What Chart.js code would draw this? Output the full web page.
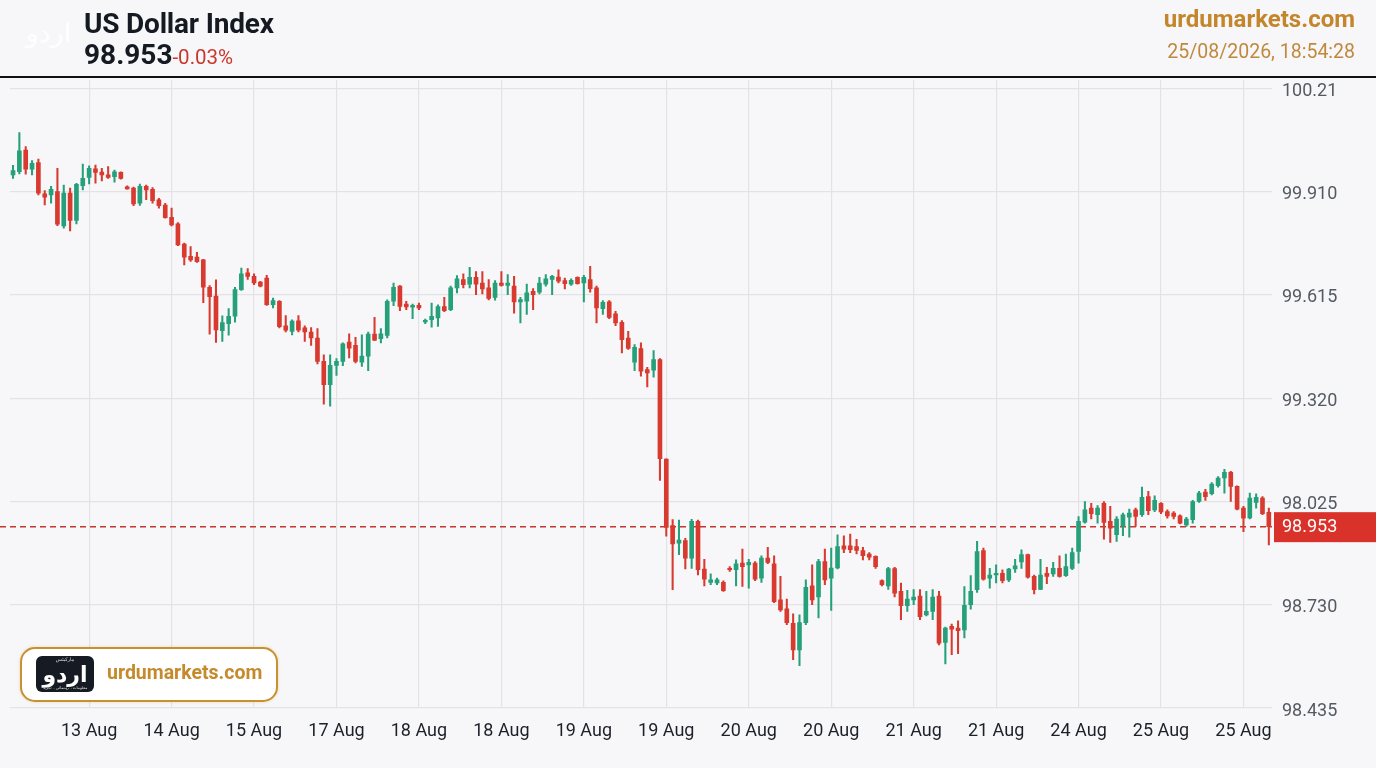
<!DOCTYPE html>
<html>
<head>
<meta charset="utf-8">
<script src="https://cdn.jsdelivr.net/npm/chart.js@4.4.1/dist/chart.umd.min.js"></script>
<style>
  html, body { margin: 0; padding: 0; background: #f7f7f9; }
  body { width: 1376px; height: 768px; position: relative; overflow: hidden; font-family: Roboto, "Noto Sans", Arial, sans-serif; }
  #wrap { position: absolute; left: 0; top: 0; width: 1376px; height: 768px; }
  .abs { position: absolute; white-space: nowrap; }
  #title { left: 84px; top: 7px; font-size: 28px; font-weight: 700; color: #151a22; letter-spacing: -0.2px; }
  #price { left: 84px; top: 38px; font-size: 28px; font-weight: 700; color: #151a22; }
  #chg { font-size: 20.5px; font-weight: 400; color: #c9382d; }
  #site { right: 21px; top: 5px; font-size: 24px; font-weight: 700; color: #c4862c; }
  #stamp { right: 21px; top: 40px; font-size: 19.5px; color: #bf8a3e; }
  #rule { left: 0; top: 76px; width: 1376px; height: 2px; background: #111; }
  #wm { left: 26px; top: 18px; font-size: 26px; font-weight: 700; color: #fdfdfe; text-shadow: 0 0 1px rgba(0,0,0,0.05); }
  #logo { left: 20px; top: 647px; width: 254px; height: 51px; border: 2.5px solid #c8912f; border-radius: 15px; background: #ffffff; box-shadow: 0 0 3px rgba(200,145,47,0.35); }
  #badge { position: absolute; left: 14px; top: 7px; width: 58px; height: 36px; border-radius: 6px; background: #161a22; color: #fff; overflow: hidden; font-family: "Noto Sans", "DejaVu Sans", sans-serif; }
  #badge .big { position: absolute; left: 0; width: 58px; top: 3px; text-align: center; font-size: 22px; font-weight: 700; line-height: 28px; }
  #badge .tiny1 { position: absolute; left: 0; width: 58px; text-align: center; top: 0px; font-size: 5px; line-height: 6px; color: #ddd; }
  #badge .tiny2 { position: absolute; left: 0; width: 58px; text-align: center; top: 29px; font-size: 4px; line-height: 5px; color: #ddd; }
  #logotext { position: absolute; left: 85px; top: 12px; font-size: 19.5px; font-weight: 700; color: #c48a2c; }
</style>
</head>
<body>
<div id="wrap"><canvas id="c"></canvas></div>
<div class="abs" id="wm">اردو</div>
<div class="abs" id="title">US Dollar Index</div>
<div class="abs" id="price">98.953<span id="chg">-0.03%</span></div>
<div class="abs" id="site">urdumarkets.com</div>
<div class="abs" id="stamp">25/08/2026, 18:54:28</div>
<div class="abs" id="rule"></div>
<div class="abs" id="logo"><div id="badge"><span class="tiny1">مارکیٹس</span><span class="big">اردو</span><span class="tiny2">معلومات ۔ رہنمائی ۔ تجزیہ</span></div><div id="logotext">urdumarkets.com</div></div>
<script>
// ---- data ----
const opens = [
99.958,99.967,100.029,99.974,99.993,99.904,99.901,99.910,99.812,99.906,
99.828,99.927,99.951,99.975,99.966,99.958,99.953,99.965,99.924,99.920,
99.877,99.925,99.917,99.887,99.872,99.837,99.818,99.760,99.725,99.723,
99.715,99.637,99.612,99.513,99.533,99.554,99.630,99.678,99.668,99.652,
99.663,99.587,99.597,99.527,99.511,99.541,99.521,99.509,99.492,99.425,
99.359,99.414,99.425,99.480,99.471,99.423,99.440,99.503,99.490,99.499,
99.597,99.640,99.589,99.580,99.585,99.538,99.544,99.549,99.582,99.573,
99.635,99.659,99.646,99.665,99.649,99.635,99.608,99.649,99.642,99.640,
99.595,99.597,99.625,99.623,99.646,99.659,99.666,99.656,99.646,99.665,
99.649,99.659,99.635,99.576,99.595,99.561,99.537,99.492,99.423,99.462,
99.402,99.400,99.430,99.146,98.956,98.906,98.913,98.863,98.968,98.832,
98.794,98.792,98.794,98.833,98.830,98.849,98.844,98.849,98.806,98.863,
98.847,98.744,98.718,98.677,98.601,98.679,98.784,98.752,98.853,98.806,
98.835,98.898,98.898,98.896,98.885,98.875,98.868,98.799,98.784,98.833,
98.768,98.727,98.744,98.755,98.701,98.711,98.755,98.622,98.668,98.663,
98.658,98.730,98.773,98.885,98.806,98.815,98.820,98.801,98.832,98.852,
98.873,98.811,98.774,98.820,98.818,98.834,98.813,98.834,98.882,98.966,
99.006,98.987,99.020,98.968,98.930,98.954,98.980,99.001,98.987,99.039,
99.001,99.020,98.996,98.992,98.984,98.958,98.973,99.025,99.052,99.047,
99.070,99.092,99.108,99.068,99.006,98.978,99.022,99.035,98.994];
const highs = [
99.985,100.079,100.039,99.999,100.003,99.913,99.925,99.977,99.929,99.920,
99.934,99.989,99.984,99.986,99.977,99.982,99.972,99.967,99.927,99.923,
99.932,99.929,99.922,99.891,99.877,99.863,99.822,99.763,99.753,99.737,
99.717,99.642,99.658,99.555,99.576,99.637,99.692,99.690,99.675,99.654,
99.671,99.606,99.599,99.556,99.544,99.556,99.527,99.522,99.519,99.444,
99.444,99.433,99.478,99.504,99.494,99.501,99.509,99.551,99.519,99.601,
99.649,99.642,99.597,99.589,99.592,99.546,99.592,99.587,99.608,99.640,
99.670,99.675,99.694,99.682,99.682,99.659,99.656,99.682,99.673,99.668,
99.608,99.646,99.633,99.665,99.673,99.671,99.687,99.663,99.661,99.667,
99.671,99.697,99.640,99.599,99.599,99.568,99.542,99.511,99.473,99.478,
99.408,99.456,99.433,99.147,98.973,98.972,98.920,98.974,98.972,98.860,
98.818,98.806,98.798,98.839,98.858,98.889,98.860,98.853,98.870,98.894,
98.870,98.811,98.746,98.704,98.701,98.801,98.844,98.860,98.889,98.892,
98.930,98.927,98.932,98.917,98.894,98.879,98.870,98.801,98.837,98.837,
98.792,98.771,98.773,98.773,98.768,98.773,98.768,98.666,98.675,98.684,
98.782,98.813,98.911,98.892,98.834,98.844,98.830,98.834,98.860,98.887,
98.875,98.815,98.860,98.837,98.851,98.870,98.875,98.892,98.982,99.025,
99.020,99.013,99.025,99.011,98.982,98.992,99.003,99.006,99.066,99.054,
99.041,99.022,99.001,98.996,98.987,98.980,99.028,99.054,99.060,99.079,
99.096,99.117,99.111,99.070,99.011,99.049,99.047,99.039,99.006];
const lows = [
99.948,99.961,99.960,99.958,99.901,99.872,99.877,99.813,99.806,99.798,
99.818,99.915,99.932,99.934,99.941,99.948,99.937,99.946,99.917,99.870,
99.871,99.887,99.877,99.863,99.834,99.812,99.756,99.701,99.711,99.708,
99.593,99.503,99.479,99.482,99.500,99.537,99.628,99.659,99.644,99.638,
99.585,99.578,99.521,99.509,99.501,99.509,99.482,99.471,99.418,99.303,
99.297,99.385,99.413,99.435,99.421,99.411,99.399,99.484,99.478,99.492,
99.584,99.570,99.573,99.547,99.573,99.533,99.523,99.525,99.567,99.570,
99.621,99.635,99.635,99.616,99.618,99.601,99.600,99.640,99.616,99.563,
99.535,99.559,99.573,99.618,99.640,99.616,99.649,99.632,99.642,99.646,
99.595,99.623,99.535,99.559,99.547,99.527,99.449,99.459,99.399,99.383,
99.352,99.380,99.085,98.926,98.773,98.873,98.832,98.834,98.815,98.784,
98.787,98.787,98.768,98.825,98.784,98.782,98.777,98.799,98.794,98.847,
98.736,98.711,98.673,98.573,98.556,98.673,98.730,98.692,98.787,98.714,
98.832,98.879,98.879,98.875,98.858,98.858,98.834,98.784,98.774,98.752,
98.687,98.711,98.730,98.687,98.698,98.687,98.615,98.561,98.587,98.590,
98.635,98.717,98.765,98.800,98.777,98.792,98.792,98.796,98.822,98.834,
98.806,98.761,98.773,98.790,98.811,98.809,98.811,98.830,98.849,98.963,
98.975,98.963,98.917,98.908,98.911,98.927,98.923,98.954,98.982,98.987,
98.996,98.990,98.977,98.975,98.961,98.954,98.963,99.022,99.028,99.044,
99.066,99.049,99.025,99.001,98.939,98.975,99.006,98.987,98.901];
const closes = [
99.970,100.027,99.974,99.991,99.906,99.894,99.917,99.817,99.906,99.828,
99.931,99.948,99.977,99.965,99.958,99.951,99.967,99.948,99.918,99.875,
99.925,99.915,99.884,99.870,99.836,99.815,99.758,99.723,99.715,99.710,
99.637,99.610,99.515,99.536,99.554,99.630,99.675,99.668,99.649,99.640,
99.587,99.599,99.524,99.514,99.540,99.514,99.509,99.492,99.425,99.359,
99.414,99.425,99.475,99.463,99.425,99.440,99.503,99.486,99.504,99.597,
99.637,99.582,99.581,99.585,99.578,99.542,99.554,99.582,99.570,99.635,
99.661,99.644,99.665,99.646,99.632,99.605,99.649,99.642,99.649,99.595,
99.602,99.621,99.616,99.649,99.661,99.668,99.654,99.647,99.657,99.647,
99.665,99.633,99.578,99.594,99.551,99.535,99.487,99.462,99.465,99.397,
99.392,99.430,99.147,98.951,98.904,98.915,98.863,98.968,98.830,98.803,
98.801,98.801,98.770,98.830,98.847,98.839,98.851,98.803,98.863,98.851,
98.739,98.715,98.679,98.601,98.679,98.780,98.744,98.853,98.801,98.835,
98.896,98.889,98.887,98.885,98.870,98.866,98.839,98.787,98.833,98.763,
98.727,98.746,98.752,98.696,98.711,98.752,98.620,98.663,98.660,98.656,
98.728,98.768,98.882,98.803,98.815,98.820,98.799,98.832,98.841,98.873,
98.809,98.773,98.815,98.811,98.834,98.811,98.839,98.879,98.968,99.001,
98.990,99.006,98.965,98.949,98.975,98.987,98.992,98.982,99.037,98.999,
99.028,98.995,98.984,98.982,98.963,98.975,99.025,99.049,99.039,99.075,
99.092,99.108,99.068,99.003,98.977,99.035,99.037,98.990,98.953];

const tickLabels  = ['13 Aug','14 Aug','15 Aug','17 Aug','18 Aug','18 Aug','19 Aug','19 Aug','20 Aug','20 Aug','21 Aug','21 Aug','24 Aug','25 Aug','25 Aug'];
const tickCandles = [12,25,38,51,64,77,90,103,116,129,142,155,168,181,194];
const yTickValues = [98.435,98.730,99.025,99.320,99.615,99.910,100.205];
const yTickLabels = ['98.435','98.730','98.025','99.320','99.615','99.910','100.21'];
const lastPrice = 98.953;
const lastPriceLabel = '98.953';

// ---- build ----
const UP = '#26a07a', DOWN = '#d83a2f', GRID = '#e3e3e7';
const categories = opens.map((_, i) => {
  const k = tickCandles.indexOf(i);
  return k >= 0 ? tickLabels[k] : '';
});
const bodies = opens.map((o, i) => [o, closes[i]]);
const wicks = lows.map((l, i) => [l, highs[i]]);
const colorOf = (ctx) => closes[ctx.dataIndex] >= opens[ctx.dataIndex] ? UP : DOWN;

const lastPricePlugin = {
  id: 'lastPrice',
  beforeDatasetsDraw(chart) {
    const { ctx, chartArea, scales } = chart;
    const y = scales.y.getPixelForValue(lastPrice);
    ctx.save();
    ctx.strokeStyle = '#c4372d';
    ctx.lineWidth = 1.5;
    ctx.setLineDash([6, 4]);
    ctx.beginPath();
    ctx.moveTo(0, y);
    ctx.lineTo(chartArea.right, y);
    ctx.stroke();
    ctx.restore();
  },
  afterDraw(chart) {
    const { ctx, chartArea, scales } = chart;
    const y = scales.y.getPixelForValue(lastPrice);
    ctx.save();
    ctx.fillStyle = '#d8322b';
    ctx.fillRect(chartArea.right + 2, y - 14.5, chart.width - chartArea.right - 2, 30);
    ctx.fillStyle = '#ffffff';
    ctx.font = '18px Roboto';
    ctx.textBaseline = 'middle';
    ctx.textAlign = 'left';
    ctx.fillText(lastPriceLabel, chartArea.right + 10, y + 1);
    ctx.restore();
  }
};

new Chart(document.getElementById('c'), {
  type: 'bar',
  data: {
    labels: categories,
    datasets: [
      { label: 'body', data: bodies, backgroundColor: colorOf, barThickness: 4, minBarLength: 1.5, borderWidth: 0, borderSkipped: false, grouped: false, order: 0 },
      { label: 'wick', data: wicks, backgroundColor: colorOf, barThickness: 1.4, borderWidth: 0, borderSkipped: false, grouped: false, order: 1 }
    ]
  },
  options: {
    responsive: true,
    maintainAspectRatio: false,
    animation: false,
    layout: { padding: { top: 80, left: 9, right: 0, bottom: 0 } },
    plugins: { legend: { display: false }, tooltip: { enabled: false } },
    scales: {
      x: {
        type: 'category',
        offset: true,
        border: { display: false },
        grid: {
          offset: false,
          drawTicks: false,
          lineWidth: 1.2,
          color: (ctx) => categories[ctx.index] ? GRID : 'rgba(0,0,0,0)'
        },
        ticks: {
          autoSkip: false,
          maxRotation: 0,
          padding: 13,
          color: '#1c2028',
          font: { family: 'Roboto', size: 18 },
          callback: (v, i) => categories[i]
        },
        afterFit: (s) => { s.height = 60; }
      },
      y: {
        position: 'right',
        min: 98.435,
        max: 100.229,
        border: { display: false },
        grid: { drawTicks: false, color: GRID, lineWidth: 1.2 },
        afterBuildTicks: (s) => { s.ticks = yTickValues.map(v => ({ value: v })); },
        ticks: {
          padding: 10,
          labelOffset: 3,
          color: '#555a62',
          font: { family: 'Roboto', size: 18 },
          callback: (v, i) => yTickLabels[i]
        },
        afterFit: (s) => { s.width = 104; }
      }
    }
  },
  plugins: [lastPricePlugin]
});
</script>
</body>
</html>
